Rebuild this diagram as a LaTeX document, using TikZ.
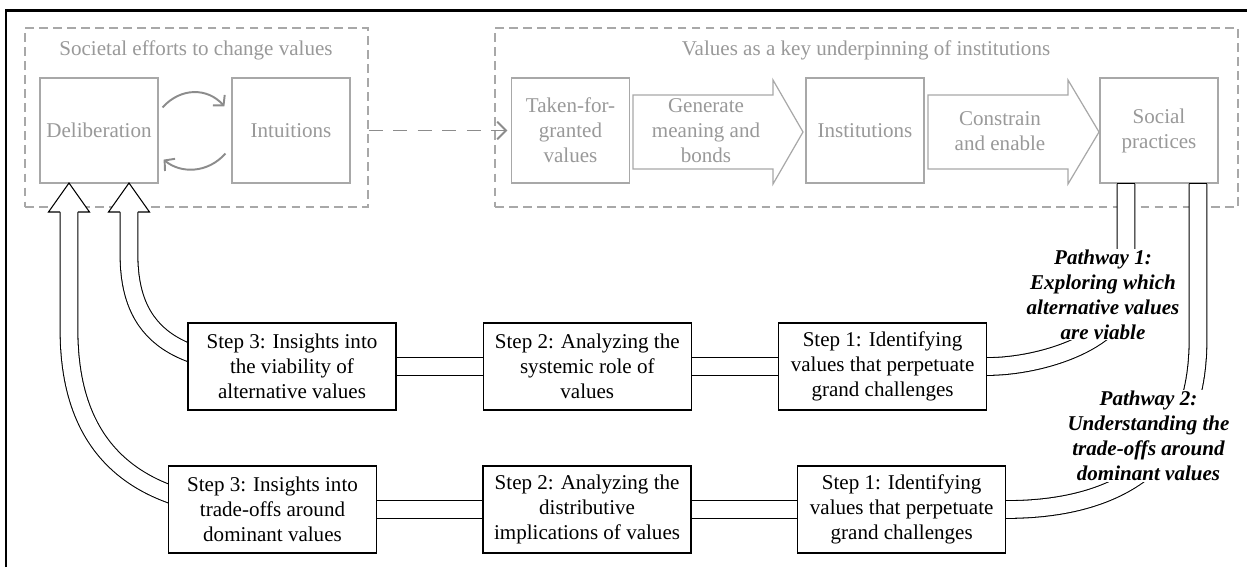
\documentclass[tikz,border=0pt]{standalone}
\usepackage{fontspec}
\setmainfont{Liberation Serif}
\usetikzlibrary{arrows.meta,positioning,fit,backgrounds}
\definecolor{greytext}{gray}{0.6}
\definecolor{greyline}{gray}{0.66}
\definecolor{greyarrow}{gray}{0.55}
\newcommand{\pxu}{0.57pt}
% open block arrow head sitting on the end of a pipe
\newcommand{\openhead}[1]{\filldraw[fill=white, line width=0.6pt] (#1) ++(-8.9,0) -- ++(-11.6,0) -- ++(20.5,-29) -- ++(20.5,29) -- ++(-11.6,0);}

\begin{document}
\begin{tikzpicture}[
  x=\pxu, y=-\pxu,
  font=\fontsize{12}{14.25}\selectfont,
  gbox/.style={draw=greyline, line width=0.7pt, fill=white, align=center, text=greytext,
               minimum width=118*\pxu, minimum height=105*\pxu, inner sep=1pt},
  gtitle/.style={text=greytext, inner sep=0pt},
  grp/.style={draw=greyline, dash pattern=on 5pt off 3pt, line width=0.6pt, inner sep=0pt},
  stepbox/.style={draw, line width=0.75pt, fill=white, align=center,
                  minimum width=208*\pxu, minimum height=87*\pxu, inner sep=1pt},
  plabel/.style={font=\fontsize{12}{14.25}\selectfont\bfseries\itshape, align=center,
                 fill=white, inner sep=0.5pt},
  pipe/.style={line width=0.6pt, double=white, double distance=9.5pt},
  cyc/.style={draw=greyarrow, line width=1.1pt, -{Straight Barb[length=4pt,width=9pt]}},
  link/.style={draw=greyarrow, line width=1.1pt, dash pattern=on 8pt off 6pt,
               -{Straight Barb[length=5pt,width=10pt]}, shorten >=2pt}
]
\useasboundingbox (0,0) rectangle (1247,567);
\draw[line width=1.5pt] (6,567) |- (1247,10.5);

% top row
\node[gtitle] (t1) at (196,50) {Societal efforts to change values};
\node[gtitle] (t2) at (866,50) {Values as a key underpinning of institutions};
\node[gbox] (dl) at (99,130.5) {Deliberation};
\node[gbox] (intu) at (291,130.5) {Intuitions};
\node[gbox] (tk) at (570.5,130.5) {Taken-for-\\granted\\values};
\node[gbox] (inst) at (865,130.5) {Institutions};
\node[gbox] (soc) at (1159,130.5) {Social\\practices};
\draw[greyline, line width=0.7pt] (633,95) -- (773,95) -- (773,80) -- (803,132)
  -- (773,184) -- (773,169) -- (633,169) -- cycle;
\draw[greyline, line width=0.7pt] (928,95) -- (1068,95) -- (1068,80) -- (1099,132)
  -- (1068,184) -- (1068,169) -- (928,169) -- cycle;
\node[text=greytext, align=center] (gen) at (706,131) {Generate\\meaning and\\bonds};
\node[text=greytext, align=center] (con) at (1000,131) {Constrain\\and enable};

\draw[cyc] ([shift={(4,30)}]dl.north east) .. controls +(18,-20) and +(-17,-19)
  .. ([shift={(-7,29)}]intu.north west);
\draw[cyc] ([shift={(-6,-30)}]intu.south west) .. controls +(-18,20) and +(17,14)
  .. ([shift={(5,-24)}]dl.south east);

% the two pathways
\node[stepbox] (s3a) at (292,366.5) {Step 3: Insights into\\the viability of\\alternative values};
\node[stepbox, right=49pt of s3a] (s2a) {Step 2: Analyzing the\\systemic role of\\values};
\node[stepbox, right=49pt of s2a] (s1a) {Step 1: Identifying\\values that perpetuate\\grand challenges};
\node[stepbox] (s3b) at (272.5,509.5) {Step 3: Insights into\\trade-offs around\\dominant values};
\node[stepbox, right=60pt of s3b] (s2b) {Step 2: Analyzing the\\distributive\\implications of values};
\node[stepbox, right=60pt of s2b] (s1b) {Step 1: Identifying\\values that perpetuate\\grand challenges};

\node[plabel] (lab1) at (1103,294.5) {Pathway 1:\\Exploring which\\alternative values\\are viable};
\node[plabel] (lab2) at (1148.5,436) {Pathway 2:\\Understanding the\\trade-offs around\\dominant values};

\coordinate (pw1) at (1126,290);
\coordinate (pw2) at (1198,340);
\coordinate (k1) at (129,255);
\coordinate (k2) at (69,330);
\coordinate (h1) at (129,212);
\coordinate (h2) at (69,212);

\begin{scope}[on background layer]
  \node[grp, fit={(25,28) (368,207)}] (g1) {};
  \node[grp, fit={(495,28) (1238,207)}] (g2) {};
  \draw[pipe] (soc.south -| pw1) -- (pw1) .. controls +(0,50) and +(55,0) .. (s1a.east)
    -- (s3a.center) .. controls +(-102,0) and +(0,90) .. (k1) -- (h1);
  \draw[pipe] (soc.south -| pw2) -- (pw2) .. controls +(0,135) and +(95,0) .. (s1b.east)
    -- (s3b.center) .. controls +(-112,0) and +(0,140) .. (k2) -- (h2);
\end{scope}

\draw[link] (g1.east |- tk.west) -- (tk.west);
\draw[line width=0.6pt] (soc.south -| pw1) ++(-9.4,0) -- ++(18.8,0);
\draw[line width=0.6pt] (soc.south -| pw2) ++(-9.4,0) -- ++(18.8,0);
\openhead{h1}
\openhead{h2}
\end{tikzpicture}
\end{document}
